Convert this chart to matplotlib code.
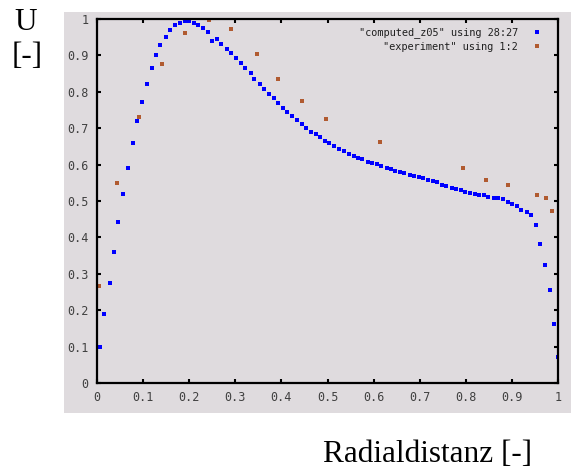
import numpy as np
import matplotlib
matplotlib.use('Agg')
import matplotlib.pyplot as plt
from matplotlib.patches import Rectangle

# computed profile (columns 28:27)
comp_x = [0.006, 0.016, 0.028, 0.036, 0.046, 0.057, 0.067, 0.078, 0.087, 0.098,
          0.108, 0.119, 0.128, 0.137, 0.149, 0.158, 0.170, 0.179, 0.191, 0.200,
          0.211, 0.220, 0.230, 0.240, 0.250, 0.260, 0.270, 0.282, 0.291, 0.302,
          0.312, 0.321, 0.333, 0.341, 0.353, 0.362, 0.373, 0.383, 0.392, 0.404,
          0.412, 0.424, 0.433, 0.445, 0.454, 0.465, 0.475, 0.483, 0.495, 0.504,
          0.515, 0.525, 0.536, 0.546, 0.557, 0.566, 0.575, 0.587, 0.596, 0.607,
          0.617, 0.628, 0.637, 0.646, 0.657, 0.667, 0.678, 0.687, 0.698, 0.708,
          0.717, 0.728, 0.738, 0.748, 0.758, 0.770, 0.779, 0.790, 0.799, 0.809,
          0.820, 0.829, 0.840, 0.849, 0.861, 0.870, 0.881, 0.891, 0.900, 0.912,
          0.920, 0.932, 0.941, 0.953, 0.962, 0.971, 0.983, 0.991, 1.000]
comp_y = [0.099, 0.189, 0.274, 0.359, 0.441, 0.519, 0.591, 0.658, 0.719, 0.772,
          0.822, 0.865, 0.901, 0.929, 0.951, 0.969, 0.983, 0.990, 0.994, 0.994,
          0.990, 0.983, 0.975, 0.964, 0.940, 0.944, 0.932, 0.918, 0.907, 0.893,
          0.879, 0.865, 0.851, 0.836, 0.822, 0.808, 0.794, 0.783, 0.769, 0.755,
          0.745, 0.733, 0.723, 0.712, 0.701, 0.690, 0.683, 0.676, 0.666, 0.658,
          0.651, 0.644, 0.636, 0.630, 0.625, 0.619, 0.615, 0.608, 0.604, 0.601,
          0.597, 0.591, 0.587, 0.583, 0.580, 0.576, 0.572, 0.569, 0.565, 0.562,
          0.559, 0.555, 0.551, 0.544, 0.540, 0.537, 0.533, 0.529, 0.526, 0.523,
          0.519, 0.516, 0.516, 0.512, 0.508, 0.508, 0.505, 0.497, 0.491, 0.487,
          0.476, 0.469, 0.462, 0.434, 0.381, 0.323, 0.256, 0.163, 0.071]

# experiment (columns 1:2)
exp_x = [0.004, 0.044, 0.092, 0.142, 0.190, 0.243, 0.290, 0.346, 0.393, 0.444,
         0.497, 0.613, 0.794, 0.844, 0.892, 0.954, 0.974, 0.986]
exp_y = [0.267, 0.549, 0.730, 0.876, 0.962, 0.996, 0.972, 0.904, 0.836, 0.776,
         0.725, 0.661, 0.591, 0.559, 0.544, 0.516, 0.508, 0.473]

ticks = np.round(np.arange(0, 1.01, 0.1), 1)
tick_labels = ['0'] + ['%.1f' % t for t in ticks[1:-1]] + ['1']

bg = '#dfdbde'
fig = plt.figure(figsize=(5.71, 4.68), dpi=100)
# grey plot area behind the axes (gnuplot canvas)
fig.patches.append(Rectangle((64/571, 55/468), 1 - 64/571, 401/468,
                             transform=fig.transFigure, facecolor=bg,
                             edgecolor='none', zorder=-10))
ax = fig.add_axes([97/571, 85/468, 461/571, 364/468])
ax.set_facecolor(bg)

ax.plot(comp_x, comp_y, 's', color='#0000ff', ms=3.4, mew=0,
        label='"computed_z05" using 28:27')
ax.plot(exp_x, exp_y, 's', color='#b05a30', ms=3.4, mew=0,
        label='"experiment" using 1:2')

ax.set_xlim(0, 1)
ax.set_ylim(0, 1)
ax.set_xticks(ticks)
ax.set_yticks(ticks)
ax.set_xticklabels(tick_labels, family='DejaVu Sans Mono', fontsize=8.5, color='#404040')
ax.set_yticklabels(tick_labels, family='DejaVu Sans Mono', fontsize=8.5, color='#404040')
ax.tick_params(direction='in', length=3, width=1.5, top=True, right=True, pad=6)
for s in ax.spines.values():
    s.set_linewidth(1.6)

leg = ax.legend(loc='upper right', bbox_to_anchor=(0.985, 1.0), frameon=False,
                markerfirst=False, handlelength=1.2, handletextpad=1.2,
                labelspacing=0.35, borderaxespad=0.4,
                prop={'family': 'DejaVu Sans Mono', 'size': 7.4})
for t in leg.get_texts():
    t.set_color('#202020')

fig.text(26/571, 1 - 23/468, 'U', family='Liberation Serif', fontsize=22.5,
         ha='center', va='center')
fig.text(27/571, 1 - 57/468, '[-]', family='Liberation Serif', fontsize=22.5,
         ha='center', va='center')
fig.text(428/571, 1 - 455/468, 'Radialdistanz [-]', family='Liberation Serif',
         fontsize=22.5, ha='center', va='center')

fig.savefig('out.png', dpi=100)
